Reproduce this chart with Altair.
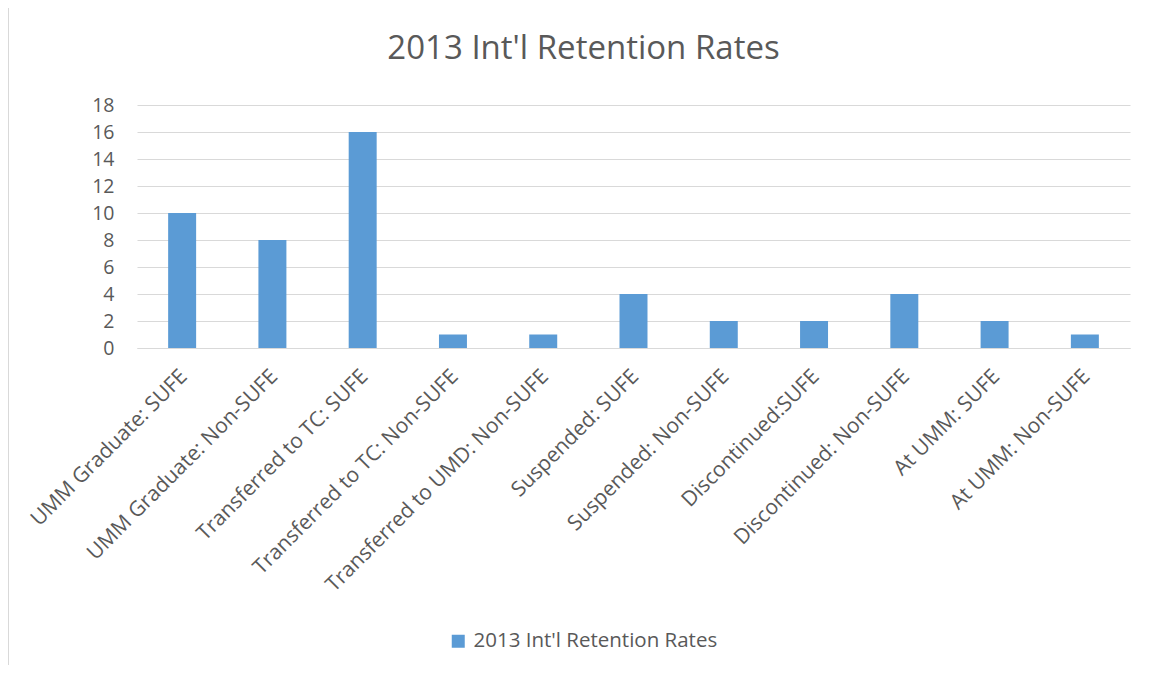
import altair as alt
import pandas as pd

categories = [
    "UMM Graduate: SUFE",
    "UMM Graduate: Non-SUFE",
    "Transferred to TC: SUFE",
    "Transferred to TC: Non-SUFE",
    "Transferred to UMD: Non-SUFE",
    "Suspended: SUFE",
    "Suspended: Non-SUFE",
    "Discontinued:SUFE",
    "Discontinued: Non-SUFE",
    "At UMM: SUFE",
    "At UMM: Non-SUFE",
]
values = [10, 8, 16, 1, 1, 4, 2, 2, 4, 2, 1]
series_name = "2013 Int'l Retention Rates"
y_ticks = [0, 2, 4, 6, 8, 10, 12, 14, 16, 18]

df = pd.DataFrame({"category": categories, "value": values, "series": series_name})

FONT = "Open Sans"
GREY = "#595959"
LINE = "#d9d9d9"

bars = alt.Chart(df).mark_bar(color="#5B9BD5").encode(
    x=alt.X(
        "category:N",
        sort=None,
        title=None,
        scale=alt.Scale(paddingInner=0.69, paddingOuter=0.345),
        axis=alt.Axis(
            labelAngle=-45,
            labelAlign="right",
            labelBaseline="middle",
            labelFontSize=21,
            labelColor=GREY,
            labelFont=FONT,
            labelPadding=25,
            labelOffset=2,
            labelLimit=0,
            ticks=False,
            domainColor=LINE,
            domainWidth=1,
            grid=False,
            labelOverlap=False,
        ),
    ),
    y=alt.Y(
        "value:Q",
        title=None,
        scale=alt.Scale(domain=[0, 18], nice=False),
        axis=alt.Axis(
            values=y_ticks,
            labelFontSize=19.5,
            labelColor=GREY,
            labelFont=FONT,
            labelPadding=23,
            ticks=False,
            domain=False,
            gridColor=LINE,
            gridWidth=1,
        ),
    ),
    color=alt.Color(
        "series:N",
        scale=alt.Scale(range=["#5B9BD5"]),
        legend=alt.Legend(
            title=None,
            orient="none",
            legendX=311,
            legendY=526,
            symbolType="square",
            symbolSize=169,
            symbolStrokeWidth=0,
            labelFontSize=20.5,
            labelColor=GREY,
            labelFont=FONT,
            labelOffset=5,
            labelLimit=0,
        ),
    ),
)

border_top = alt.Chart(df).mark_rule(color=LINE, strokeWidth=1).encode(
    x=alt.value(-128.5), x2=alt.value(1006), y=alt.value(-97.5)
)
border_left = alt.Chart(df).mark_rule(color=LINE, strokeWidth=1).encode(
    x=alt.value(-128.5), y=alt.value(-97.5), y2=alt.value(560)
)

chart = alt.layer(bars, border_top, border_left).properties(
    width=993,
    height=243,
    padding={"left": 129, "top": 97, "right": 13, "bottom": 318},
    autosize=alt.AutoSizeParams(type="none"),
    title=alt.TitleParams(
        text="2013 Int'l Retention Rates",
        anchor="middle",
        frame="group",
        dx=-50,
        offset=-85,
        baseline="alphabetic",
        fontSize=33,
        font=FONT,
        fontWeight="normal",
        color=GREY,
    ),
).configure(background="white").configure_view(stroke=None)

chart.save("out.html", embed_options={"renderer": "svg", "actions": False})
